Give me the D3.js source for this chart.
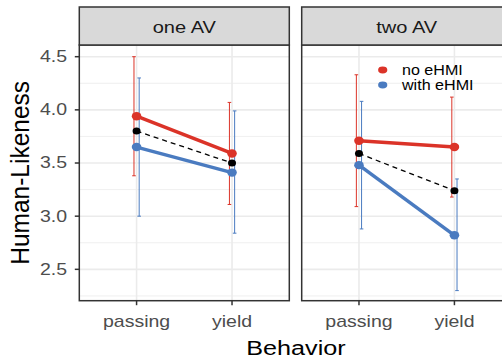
<!DOCTYPE html>
<html>
<head>
<meta charset="utf-8">
<script src="https://cdn.jsdelivr.net/npm/d3@7"></script>
<style>
  body { margin: 0; background: #fff; }
  svg { display: block; font-family: "Liberation Sans", Arial, sans-serif; }
</style>
</head>
<body>
<div id="chart"></div>
<script>
// data
const panels = ["one AV", "two AV"];
const behaviors = ["passing", "yield"];
const groups = ["no eHMI", "with eHMI"];

const noEhmiMean = [[3.94, 3.59], [3.71, 3.65]];
const noEhmiLow  = [[3.38, 3.11], [3.09, 3.18]];
const noEhmiHigh = [[4.50, 4.07], [4.33, 4.12]];

const withEhmiMean = [[3.65, 3.41], [3.48, 2.82]];
const withEhmiLow  = [[3.00, 2.84], [2.88, 2.30]];
const withEhmiHigh = [[4.30, 3.99], [4.08, 3.35]];

const overallMean = [[3.80, 3.50], [3.59, 3.24]];

const yTicks = [2.5, 3.0, 3.5, 4.0, 4.5];
const yMinor = [2.25, 2.75, 3.25, 3.75, 4.25];

// layout
const W = 502, H = 361;
const sx = 1.2; // the reference is stretched horizontally
const panelLeft = [79.3, 301.7];
const panelW = 210;
const stripTop = 7, plotTop = 45, plotBottom = 300.7;
const red = "#db3328", blue = "#4a7bc0";

const svg = d3.select("#chart").append("svg")
  .attr("width", W).attr("height", H);

const y = d3.scaleLinear().domain([2.205, 4.61]).range([plotBottom, plotTop]);

// stretched text helper
function label(g, x, yy, txt, size, opts = {}) {
  const t = g.append("g")
    .attr("transform", `translate(${x},${yy}) scale(${opts.sx || sx},1)` + (opts.rot ? ` rotate(${opts.rot})` : ""))
    .append("text")
    .text(txt)
    .attr("font-size", size)
    .attr("fill", opts.fill || "#000")
    .attr("text-anchor", opts.anchor || "start");
  if (opts.baseline) t.attr("dominant-baseline", opts.baseline);
  return t;
}

const series = [
  { name: groups[0], color: red, mean: noEhmiMean, low: noEhmiLow, high: noEhmiHigh, dodge: -2.6 },
  { name: groups[1], color: blue, mean: withEhmiMean, low: withEhmiLow, high: withEhmiHigh, dodge: 2.6 }
];

panels.forEach((pname, p) => {
  const x0 = panelLeft[p];
  const x = d3.scalePoint().domain(behaviors).range([x0, x0 + panelW]).padding(0.6);
  const g = svg.append("g");

  // background + grid
  g.append("rect").attr("x", x0).attr("y", plotTop).attr("width", panelW)
    .attr("height", plotBottom - plotTop).attr("fill", "#fff");
  g.selectAll(".minor").data(yMinor).enter().append("line")
    .attr("x1", x0).attr("x2", x0 + panelW)
    .attr("y1", d => y(d)).attr("y2", d => y(d))
    .attr("stroke", "#ebebeb").attr("stroke-width", 0.8);
  g.selectAll(".major").data(yTicks).enter().append("line")
    .attr("x1", x0).attr("x2", x0 + panelW)
    .attr("y1", d => y(d)).attr("y2", d => y(d))
    .attr("stroke", "#ebebeb").attr("stroke-width", 1.6);
  g.selectAll(".vgrid").data(behaviors).enter().append("line")
    .attr("x1", d => x(d)).attr("x2", d => x(d))
    .attr("y1", plotTop).attr("y2", plotBottom)
    .attr("stroke", "#ebebeb").attr("stroke-width", 1.6);

  // error bars
  series.forEach(s => {
    behaviors.forEach((b, i) => {
      const bx = x(b) + s.dodge;
      g.append("line").attr("x1", bx).attr("x2", bx)
        .attr("y1", y(s.low[p][i])).attr("y2", y(s.high[p][i]))
        .attr("stroke", s.color).attr("stroke-width", 1);
      [s.low[p][i], s.high[p][i]].forEach(v => {
        g.append("line").attr("x1", bx - 1.8).attr("x2", bx + 1.8)
          .attr("y1", y(v)).attr("y2", y(v))
          .attr("stroke", s.color).attr("stroke-width", 1);
      });
    });
  });

  // overall dashed line
  g.append("path")
    .datum(behaviors.map((b, i) => [x(b), y(overallMean[p][i])]))
    .attr("d", d3.line())
    .attr("fill", "none").attr("stroke", "#000")
    .attr("stroke-width", 1.3).attr("stroke-dasharray", "5,4");

  // group lines and points
  series.forEach(s => {
    g.append("path")
      .datum(behaviors.map((b, i) => [x(b), y(s.mean[p][i])]))
      .attr("d", d3.line())
      .attr("fill", "none").attr("stroke", s.color).attr("stroke-width", 3.5);
    g.selectAll(null).data(behaviors).enter().append("ellipse")
      .attr("cx", d => x(d)).attr("cy", (d, i) => y(s.mean[p][i]))
      .attr("rx", 4.8).attr("ry", 4.2).attr("fill", s.color);
  });

  g.selectAll(null).data(behaviors).enter().append("ellipse")
    .attr("cx", d => x(d)).attr("cy", (d, i) => y(overallMean[p][i]))
    .attr("rx", 4).attr("ry", 3.5).attr("fill", "#000");

  // panel border
  g.append("rect").attr("x", x0).attr("y", plotTop).attr("width", panelW)
    .attr("height", plotBottom - plotTop).attr("fill", "none")
    .attr("stroke", "#333").attr("stroke-width", 1.5);

  // strip
  g.append("rect").attr("x", x0).attr("y", stripTop).attr("width", panelW)
    .attr("height", plotTop - stripTop).attr("fill", "#d9d9d9")
    .attr("stroke", "#333").attr("stroke-width", 1.5);
  label(g, x0 + panelW / 2, (stripTop + plotTop) / 2 + 1, pname, 17,
    { anchor: "middle", baseline: "central", fill: "#1a1a1a", sx: 1.18 });

  // x axis
  g.selectAll(".xt").data(behaviors).enter().append("line")
    .attr("x1", d => x(d)).attr("x2", d => x(d))
    .attr("y1", plotBottom).attr("y2", plotBottom + 4.5)
    .attr("stroke", "#333").attr("stroke-width", 1.5);
  behaviors.forEach(b => {
    label(g, x(b), 327, b, 16, { anchor: "middle", fill: "#4d4d4d", sx: 1.22 });
  });

  // legend in second panel
  if (p === 1) {
    series.forEach((s, k) => {
      const ly = 70 + k * 15;
      g.append("ellipse").attr("cx", 382.7).attr("cy", ly)
        .attr("rx", 4.6).attr("ry", 3.4).attr("fill", s.color);
      label(g, 402, ly, s.name, 14, { baseline: "central", sx: 1.15 });
    });
  }
});

// y axis
const ya = svg.append("g");
ya.selectAll(".yt").data(yTicks).enter().append("line")
  .attr("x1", panelLeft[0] - 4.5).attr("x2", panelLeft[0])
  .attr("y1", d => y(d)).attr("y2", d => y(d))
  .attr("stroke", "#333").attr("stroke-width", 1.5);
yTicks.forEach(v => {
  label(ya, 67, y(v), d3.format(".1f")(v), 16,
    { anchor: "end", baseline: "central", fill: "#4d4d4d", sx: 1.22 });
});

// axis titles
label(svg, 296, 355, "Behavior", 21, { anchor: "middle" });
label(svg, 29, (plotTop + plotBottom) / 2, "Human-Likeness", 24.5, { anchor: "middle", rot: -90, sx: 1.08 });
</script>
</body>
</html>
